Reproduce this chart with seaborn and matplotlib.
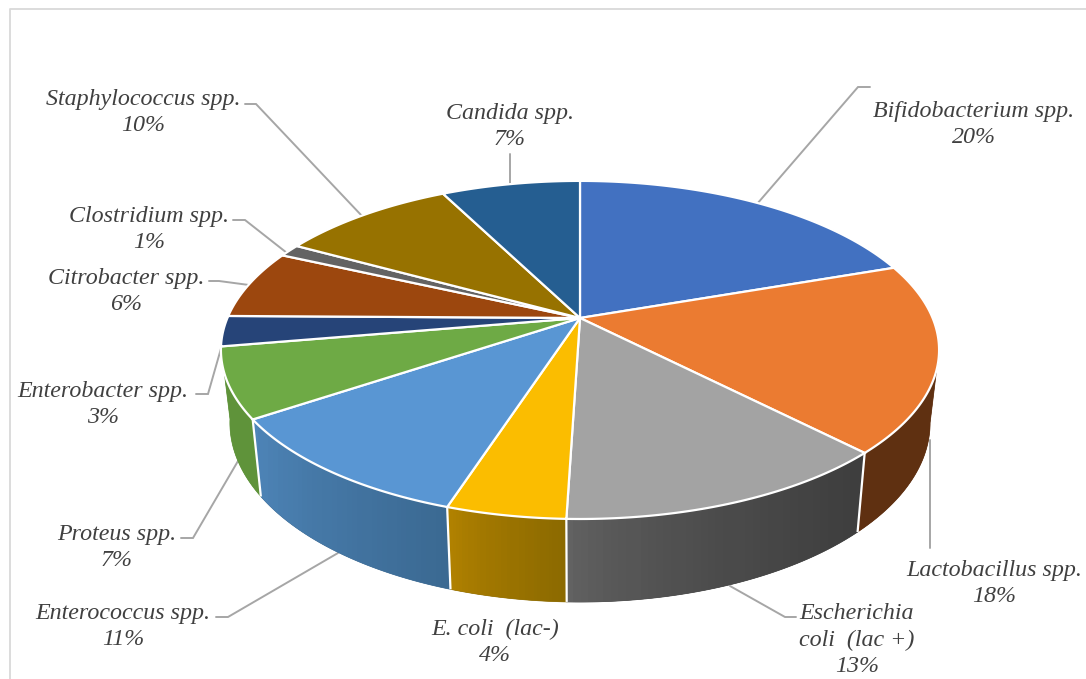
import numpy as np
import matplotlib
matplotlib.use("Agg")
import matplotlib.pyplot as plt
from matplotlib.patches import Polygon
import seaborn as sns

# ---- data ----
species = ["Bifidobacterium spp.", "Lactobacillus spp.", "Escherichia\ncoli  (lac +)",
           "E. coli  (lac-)", "Enterococcus spp.", "Proteus spp.", "Enterobacter spp.",
           "Citrobacter spp.", "Clostridium spp.", "Staphylococcus spp.", "Candida spp."]
printed_percent = [20, 18, 13, 4, 11, 7, 3, 6, 1, 10, 7]
slice_share = [19.7, 18.0, 12.8, 4.5, 10.6, 6.7, 2.9, 6.6, 1.2, 9.5, 7.5]
top_colors = ["#4271C1", "#EB7B31", "#A3A3A3", "#FBBD00", "#5996D3", "#6EAA45",
              "#264478", "#9C470E", "#636363", "#977200", "#255E91"]
wall_left = ["#2f5597", "#5f3011", "#626262", "#b38300", "#4e85b8", "#5f933a",
             "#1c3359", "#6b300a", "#444444", "#6b5000", "#1b4569"]
wall_right = ["#2f5597", "#5f3011", "#3e3e3e", "#8c6a00", "#3b6992", "#5f933a",
              "#1c3359", "#6b300a", "#444444", "#6b5000", "#1b4569"]

# ---- layout (figure pixels) ----
sns.set_theme(style="white")
W, H = 1086, 679
fig = plt.figure(figsize=(W / 100, H / 100), dpi=100, facecolor="white")
ax = fig.add_axes([0, 0, 1, 1])

CX, CY = 580.0, 318.0
S, A, K = 352.6, 163.0, 0.189      # perspective of the pie's top face
LOW_X, LOW_Y, LOW_D = 0.975, 1.06, 71.0   # mapping of top rim to bottom rim
RIGHT_TANGENT = np.pi / 2 + np.arcsin(K)   # where the rim reaches its right extreme


def top_xy(theta):
    """Project clockwise-from-north angle (radians) onto the top face."""
    x, y = np.sin(theta), np.cos(theta)
    den = 1 + K * y
    return S * x / den, A * y / den


def to_px(dx, dy):
    return CX + dx, CY - dy


def low_xy(theta):
    dx, dy = top_xy(theta)
    return LOW_X * dx, LOW_Y * dy - LOW_D


edges = np.deg2rad(np.concatenate([[0], np.cumsum(slice_share)]) / np.sum(slice_share) * 360)

# side walls with a stepped left-to-right gradient, clipped to each panel
for i in range(len(slice_share)):
    if edges[i + 1] < RIGHT_TANGENT or edges[i] > np.deg2rad(255):
        continue
    th = np.linspace(max(edges[i], RIGHT_TANGENT), edges[i + 1], 160)
    tx, ty = to_px(*top_xy(th))
    lx, ly = to_px(*low_xy(th))
    pts = np.column_stack([np.r_[tx, lx[::-1]], np.r_[ty, ly[::-1]]])
    panel = Polygon(pts, closed=True, facecolor=wall_right[i], edgecolor=wall_right[i],
                    lw=0.5, zorder=2)
    ax.add_patch(panel)
    ramp = np.array(sns.blend_palette([wall_left[i], wall_right[i]], 40))[:, :3]
    ramp = ramp[(np.linspace(0, 1, 40) ** 0.7 * 39).astype(int)][np.newaxis, :, :]
    im = ax.imshow(ramp, extent=(pts[:, 0].min(), pts[:, 0].max(), pts[:, 1].max(), pts[:, 1].min()),
                   aspect="auto", interpolation="nearest", zorder=2.1)
    im.set_clip_path(panel)

# white seams between visible wall panels
for e in edges[1:]:
    if np.pi * 0.7 < e < np.deg2rad(240):
        px, py = to_px(*np.array([top_xy(e), low_xy(e)]).T)
        ax.plot(px, py, color="white", lw=1.6, zorder=3, solid_capstyle="butt")

# top face
for i, c in enumerate(sns.color_palette(top_colors)):
    th = np.linspace(edges[i], edges[i + 1], 120)
    px, py = to_px(*top_xy(th))
    ax.fill(np.r_[CX, px], np.r_[CY, py], facecolor=c, edgecolor="white",
            lw=1.6, joinstyle="miter", zorder=4)

# chart-area frame
ax.plot([10, 10, W], [H, 8.5, 8.5], color="#d9d9d9", lw=1.3, zorder=1)

# leader lines
leaders = [
    ([757, 858, 870], [204, 87, 87]),
    ([930, 930], [440, 548]),
    ([730, 785, 796], [586, 617, 617]),
    ([338, 228, 216], [553, 617, 617]),
    ([238, 193, 181], [461, 538, 538]),
    ([222, 208, 196], [345, 394, 394]),
    ([249, 219, 209], [285, 281, 281]),
    ([287, 245, 233], [253, 220, 220]),
    ([362, 256, 245], [216, 104, 104]),
    ([510, 510], [183, 154]),
]
for xs, ys in leaders:
    ax.plot(xs, ys, color="#a6a6a6", lw=1.4, zorder=1.5, solid_joinstyle="miter")

# labels
label_pos = [(974, 124.5), (994, 583.5), (857, 640), (495, 642.5), (123, 626.5), (117, 547.5),
             (103, 404.5), (126, 291.5), (149, 229.5), (143, 112.5), (510, 126.5)]
for name, pct, (x, y) in zip(species, printed_percent, label_pos):
    ax.text(x, y, f"{name}\n{pct}%", ha="center", va="center", multialignment="center",
            family="Liberation Serif", style="italic", fontsize=17.3, color="#404040",
            linespacing=1.34, zorder=6)

ax.set_xlim(0, W)
ax.set_ylim(H, 0)
ax.axis("off")
fig.savefig("out.png", dpi=100, facecolor="white")
